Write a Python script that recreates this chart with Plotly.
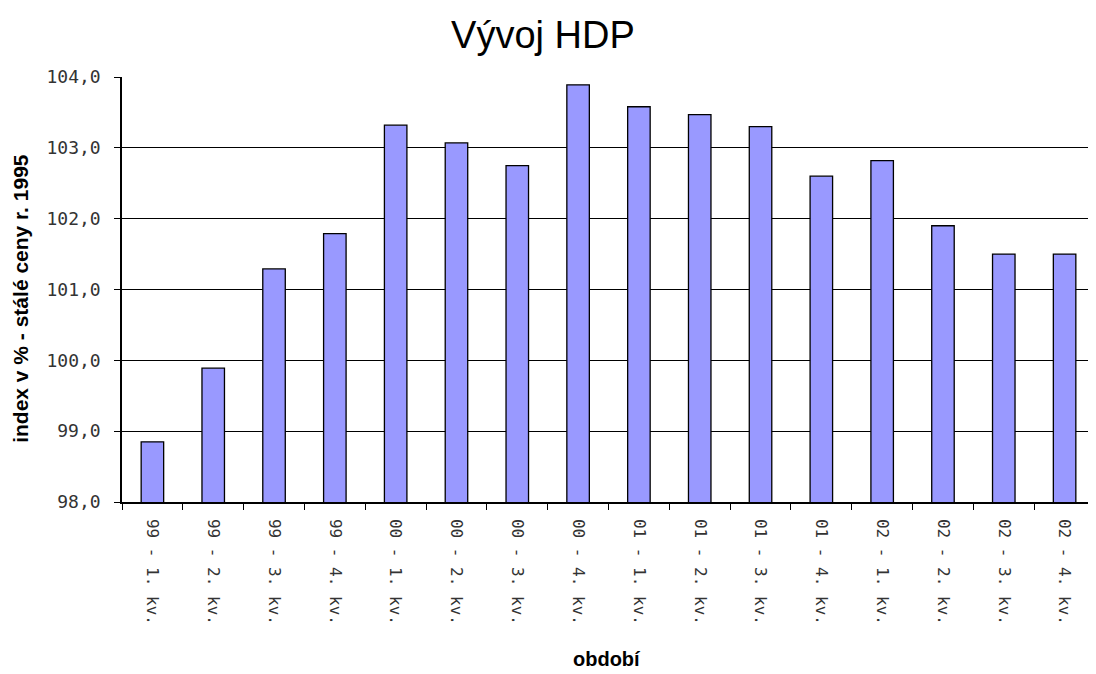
import plotly.graph_objects as go

# quarters (rok - čtvrtletí)
periods = ['99 - 1. kv.', '99 - 2. kv.', '99 - 3. kv.', '99 - 4. kv.',
           '00 - 1. kv.', '00 - 2. kv.', '00 - 3. kv.', '00 - 4. kv.',
           '01 - 1. kv.', '01 - 2. kv.', '01 - 3. kv.', '01 - 4. kv.',
           '02 - 1. kv.', '02 - 2. kv.', '02 - 3. kv.', '02 - 4. kv.']
hdp_index = [98.85, 99.89, 101.29, 101.79,
             103.32, 103.07, 102.75, 103.89,
             103.58, 103.47, 103.30, 102.60,
             102.82, 101.90, 101.50, 101.50]
y_ticks = [98, 99, 100, 101, 102, 103, 104]

fig = go.Figure()
fig.add_trace(go.Bar(
    x=periods,
    y=hdp_index,
    marker_color='#9999FF',
    marker_line_color='black',
    marker_line_width=1.3,
))

# page body adds an 8px offset, so the figure is a bit smaller than the window
fig.update_layout(
    width=1088,
    height=666,
    plot_bgcolor='white',
    paper_bgcolor='white',
    separators=', ',
    showlegend=False,
    bargap=0.63,
    margin=dict(l=114, r=1, t=69, b=172, autoexpand=False),
    title=dict(text='Vývoj HDP', x=0.4917, xanchor='center', y=0.9595, yanchor='middle',
               font=dict(family='Liberation Sans, Arial', size=38, color='black')),
    xaxis=dict(
        automargin=False,
        tickangle=90,
        tickfont=dict(family='DejaVu Sans Mono', size=16, color='#333333'),
        ticklabelstandoff=12,
        ticks='outside', tickson='boundaries', ticklen=6, tickcolor='black',
        showline=True, linecolor='black', linewidth=1.5,
        showgrid=False,
    ),
    yaxis=dict(
        automargin=False,
        range=[98, 104],
        tickvals=y_ticks,
        tickformat='.1f',
        tickfont=dict(family='DejaVu Sans Mono', size=18, color='#333333'),
        ticklabelstandoff=10,
        ticks='outside', ticklen=6, tickcolor='black',
        showline=True, linecolor='black', linewidth=1.5,
        showgrid=True, gridcolor='black', gridwidth=1.3,
        zeroline=False,
    ),
)

# axis titles
fig.add_annotation(text='<b>období</b>', xref='paper', yref='paper', x=0.498, y=-0.37,
                   xanchor='center', yanchor='middle', showarrow=False,
                   font=dict(family='Liberation Sans, Arial', size=20, color='black'))
fig.add_annotation(text='<b>index v % - stálé ceny r. 1995</b>', xref='paper', yref='paper',
                   x=-0.105, y=0.48, xanchor='center', yanchor='middle', textangle=-90,
                   showarrow=False,
                   font=dict(family='Liberation Sans, Arial', size=21, color='black'))

# light frame edge on the right side of the plot area
fig.add_shape(type='line', xref='paper', yref='paper', x0=1, x1=1, y0=0, y1=1,
              line=dict(color='#BBBBBB', width=1))

fig.write_html("out.html")
